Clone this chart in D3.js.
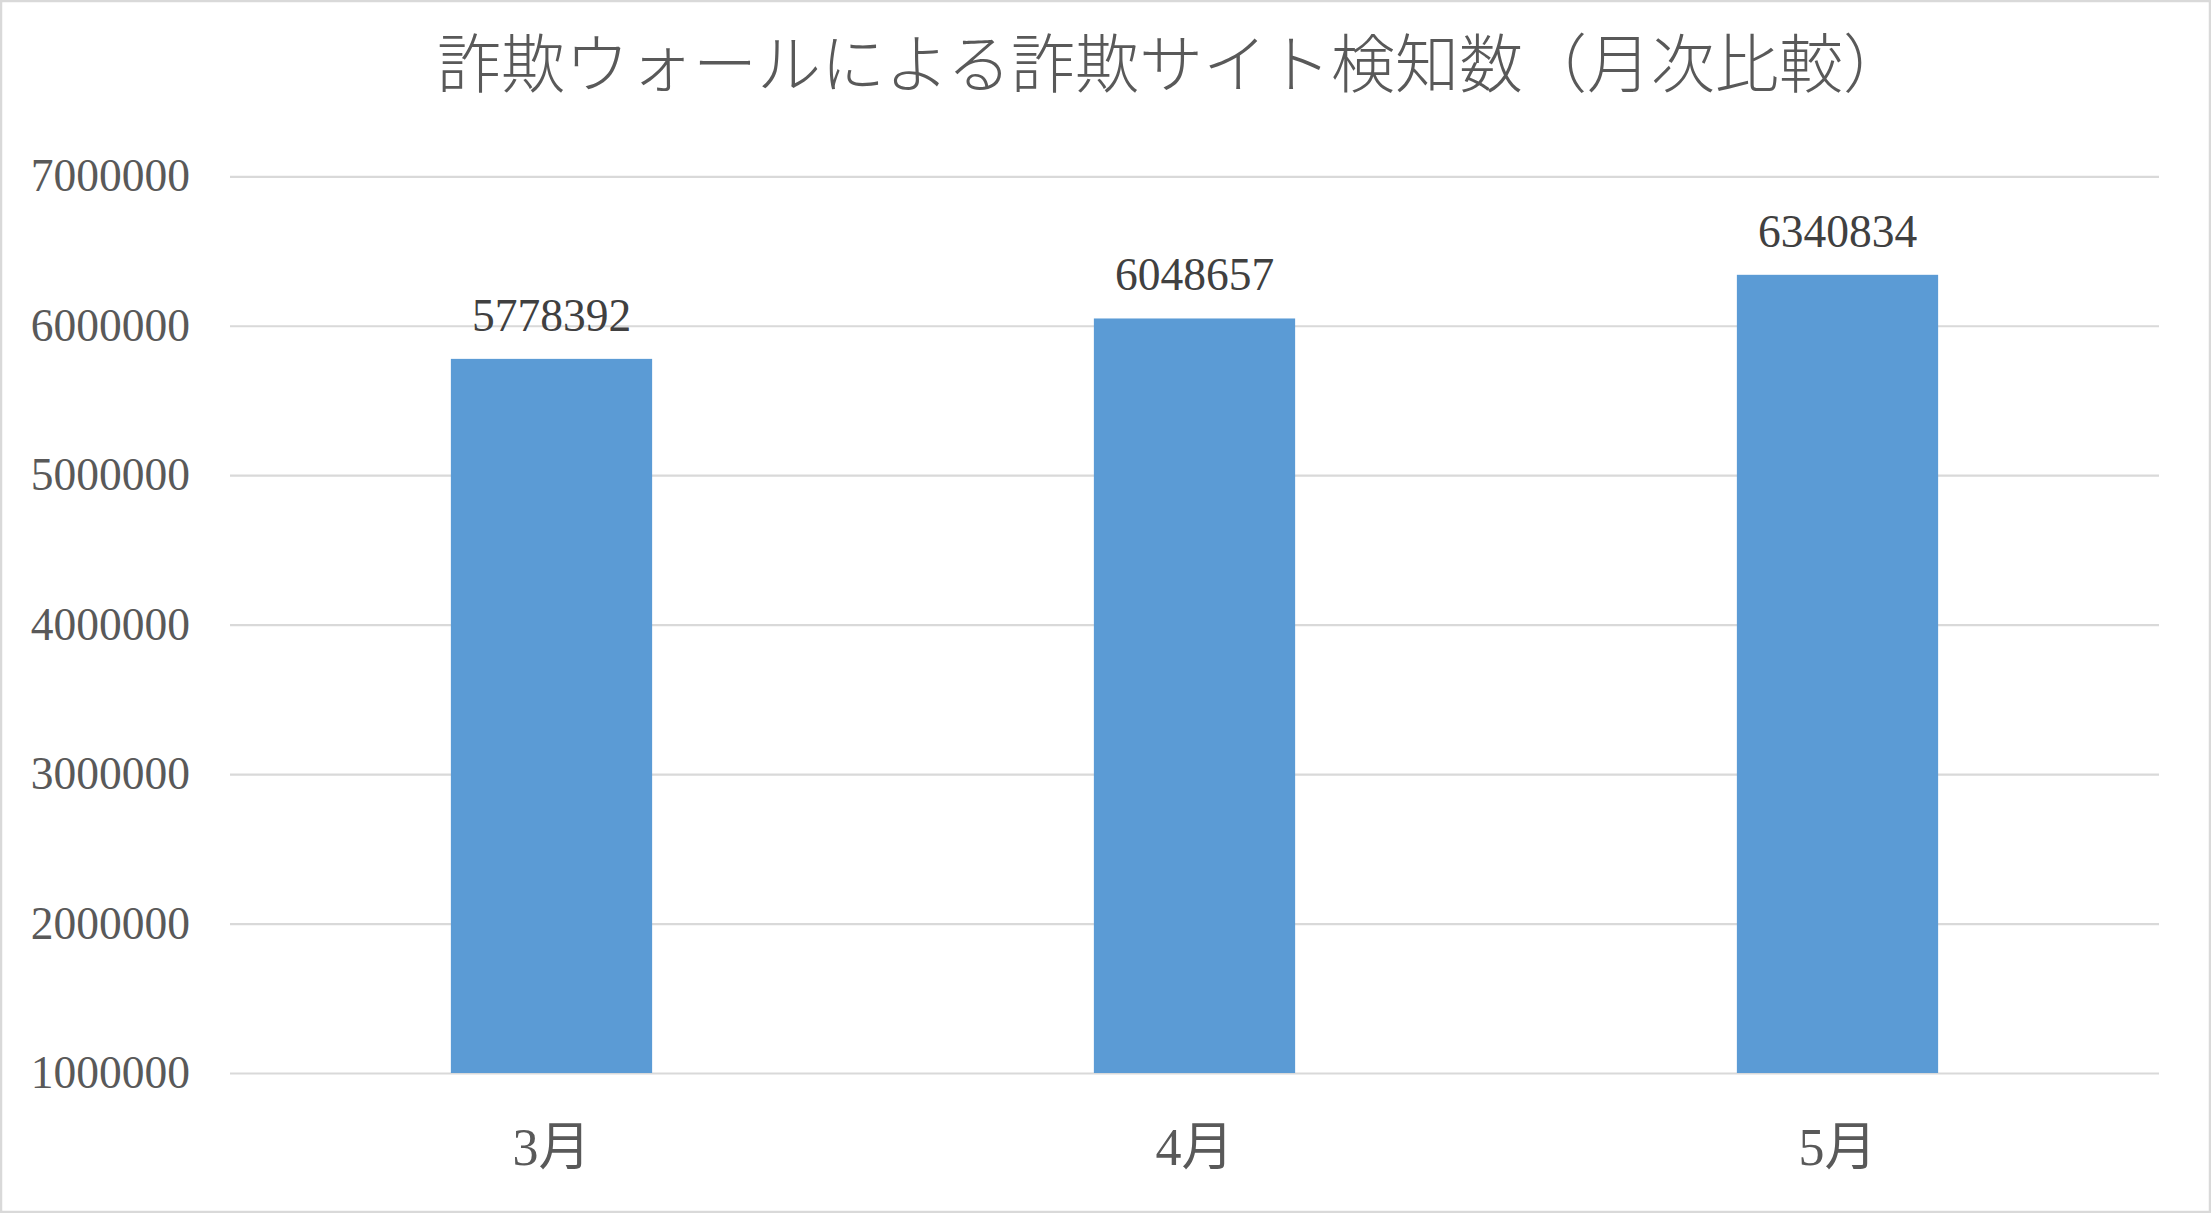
<!DOCTYPE html>
<html><head><meta charset="utf-8">
<script src="https://cdn.jsdelivr.net/npm/d3@7"></script>
<style>
html,body{margin:0;padding:0;background:#fff;}
svg{display:block;}
</style>
</head><body>
<svg id="chart" width="2211" height="1213"></svg>
<script>
const title = "詐欺ウォールによる詐欺サイト検知数（月次比較）";
const categories = ["3月", "4月", "5月"];
const values = [5778392, 6048657, 6340834];
const yTicks = [1000000, 2000000, 3000000, 4000000, 5000000, 6000000, 7000000];

const W = 2211, H = 1213;
const plotL = 230, plotR = 2159, plotT = 176.3, plotB = 1073;
const svg = d3.select("#chart");

svg.append("rect").attr("x", 1).attr("y", 1).attr("width", W - 2).attr("height", H - 2)
  .attr("fill", "#fff").attr("stroke", "#d9d9d9").attr("stroke-width", 2.5);

const x = d3.scaleBand().domain(categories).range([plotL, plotR])
  .paddingInner(0.687).paddingOuter(0.3435);
const y = d3.scaleLinear().domain([1000000, 7000000]).range([plotB, plotT]);

const serif = "'Liberation Serif','DejaVu Serif','Noto Sans CJK JP',serif";

// gridlines + y labels
const yAxis = d3.axisLeft(y).tickValues(yTicks).tickFormat(d3.format("d"))
  .tickSize(-(plotR - plotL)).tickPadding(40);
const gy = svg.append("g").attr("transform", `translate(${plotL},0)`).call(yAxis);
gy.select(".domain").remove();
gy.selectAll(".tick line").attr("stroke", "#d9d9d9").attr("stroke-width", 2.2);
gy.selectAll(".tick text").attr("fill", "#595959")
  .style("font-family", serif).style("font-size", "45.5px");

// bars
svg.append("g").selectAll("rect").data(values).join("rect")
  .attr("x", (d, i) => x(categories[i]))
  .attr("width", x.bandwidth())
  .attr("y", d => y(d))
  .attr("height", d => y(1000000) - y(d))
  .attr("fill", "#5b9bd5");

// value labels
svg.append("g").selectAll("text").data(values).join("text")
  .attr("x", (d, i) => x(categories[i]) + x.bandwidth() / 2)
  .attr("y", d => y(d) - 28)
  .attr("text-anchor", "middle")
  .attr("fill", "#404040")
  .style("font-family", serif).style("font-size", "45.5px")
  .text(d => d3.format("d")(d));

// x labels
const xAxis = d3.axisBottom(x).tickSize(0).tickPadding(0);
const gx = svg.append("g").attr("transform", `translate(0,${plotB})`).call(xAxis);
gx.select(".domain").remove();
gx.selectAll(".tick text").attr("y", 74).attr("dy", "0.35em")
  .attr("fill", "#595959")
  .style("font-family", serif).style("font-size", "52px");

// title
svg.append("text").attr("x", 437).attr("y", 59)
  .attr("dominant-baseline", "central")
  .attr("fill", "#595959")
  .style("font-family", "'Noto Sans CJK JP','Noto Sans CJK SC',sans-serif")
  .style("font-size", "64px").style("font-weight", "300")
  .text(title);
</script>
</body></html>
